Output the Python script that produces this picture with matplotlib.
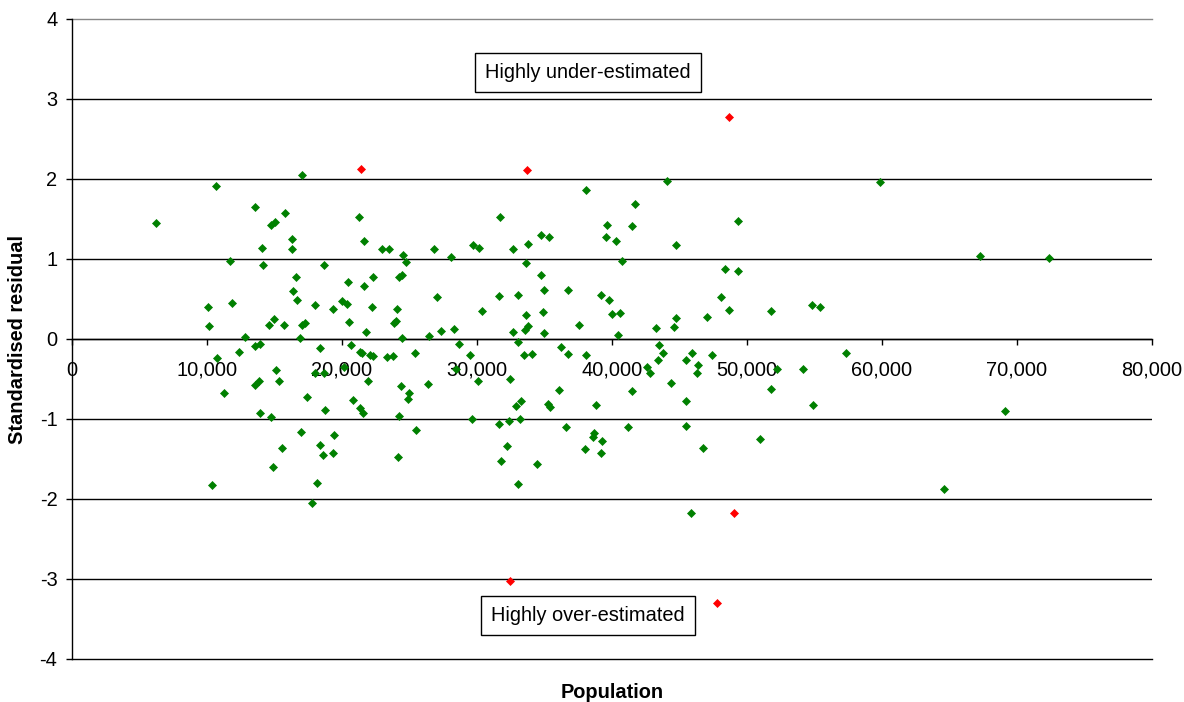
import numpy as np
import matplotlib
matplotlib.use('Agg')
import matplotlib.pyplot as plt
from matplotlib.ticker import StrMethodFormatter

plt.rcParams['font.family'] = ['Liberation Sans', 'DejaVu Sans']
plt.rcParams['axes.unicode_minus'] = False

# Population and standardised residual for each district (within +/- 2.5)
pop = [17060, 10700, 13550, 6220, 15800, 14740, 15060, 16270, 14050, 16300,
       11680, 14150, 18690, 16590, 16370, 16670, 10070, 11820, 17970, 10120,
       14560, 14930, 15700, 17040, 17260, 12790, 16910, 19360,
       13550, 13950, 12340, 18390, 10740, 15110, 18000, 18640, 15330, 13550,
       13870, 11280, 17380, 18710, 13950, 14760, 16960, 15550, 18390, 18610,
       14860, 10390, 18150, 17780, 19430, 19300,
       21280, 31730, 21650, 22960, 23450, 24520, 24760, 26790, 29680, 30120,
       32640, 33800, 28040, 33650, 20470, 22290, 21650, 24190, 24470, 20000,
       20390, 22240, 24100, 27010, 31600, 33010, 30370, 33600, 20520, 21780,
       23820, 24000, 26470, 27360, 28320, 24420, 32690, 33560, 33780,
       20690, 21330, 21450, 22070, 22300, 20120, 23300, 23750, 25400, 28690,
       29450, 28440, 33010, 33470, 21900, 24370, 24930, 24890, 26370, 30040,
       32440, 20840, 21360, 21580, 24240, 29650, 31630, 32370, 33190, 32890,
       33280, 25480, 24120, 32190, 31800, 33010, 34420,
       44040, 38040, 41730, 39600, 39560, 41480, 34740, 35300, 40320, 44740,
       40740, 48390, 34740, 34960, 36760, 39180, 39800, 48070, 34910, 39990,
       40560, 47000, 48640, 44740, 37530, 34930, 40470, 43280, 44620,
       34070, 36250, 36740, 38070, 43500, 43800, 43380, 42560, 42810, 45900,
       45480, 46340, 46300, 47380, 44370, 36040, 41480, 35240, 35430, 38840,
       45480, 36610, 41210, 45480, 38640, 38570, 39230, 38020, 39160, 46710,
       45820,
       59820, 49330, 67280, 72370, 49360, 51750, 54790, 55380,
       57360, 52220, 54150, 51780, 54860, 69110, 50990, 64590]
resid = [2.05, 1.91, 1.65, 1.45, 1.58, 1.42, 1.46, 1.25, 1.14, 1.13,
         0.98, 0.93, 0.93, 0.78, 0.60, 0.49, 0.40, 0.45, 0.43, 0.16,
         0.18, 0.25, 0.18, 0.18, 0.20, 0.03, 0.01, 0.37,
         -0.09, -0.06, -0.16, -0.11, -0.24, -0.39, -0.42, -0.43, -0.53, -0.57,
         -0.52, -0.68, -0.73, -0.89, -0.93, -0.98, -1.16, -1.36, -1.32, -1.45,
         -1.60, -1.82, -1.80, -2.05, -1.20, -1.43,
         1.52, 1.52, 1.22, 1.13, 1.13, 1.05, 0.96, 1.13, 1.17, 1.14,
         1.13, 1.19, 1.02, 0.95, 0.71, 0.78, 0.66, 0.78, 0.80, 0.48,
         0.44, 0.40, 0.37, 0.53, 0.54, 0.55, 0.35, 0.30, 0.21, 0.09,
         0.20, 0.23, 0.04, 0.10, 0.12, 0.01, 0.09, 0.11, 0.16,
         -0.08, -0.16, -0.18, -0.20, -0.21, -0.35, -0.22, -0.21, -0.18, -0.06,
         -0.20, -0.38, -0.04, -0.20, -0.53, -0.59, -0.67, -0.75, -0.56, -0.52,
         -0.50, -0.76, -0.86, -0.93, -0.96, -1.00, -1.06, -1.02, -1.00, -0.84,
         -0.78, -1.14, -1.48, -1.34, -1.53, -1.81, -1.56,
         1.97, 1.86, 1.69, 1.42, 1.28, 1.41, 1.30, 1.28, 1.22, 1.18,
         0.98, 0.87, 0.80, 0.61, 0.61, 0.55, 0.49, 0.53, 0.34, 0.31,
         0.32, 0.28, 0.36, 0.26, 0.18, 0.07, 0.05, 0.14, 0.15,
         -0.19, -0.10, -0.19, -0.20, -0.08, -0.18, -0.26, -0.35, -0.42, -0.17,
         -0.26, -0.33, -0.43, -0.20, -0.55, -0.64, -0.65, -0.81, -0.85, -0.83,
         -0.78, -1.10, -1.10, -1.09, -1.18, -1.22, -1.28, -1.38, -1.43, -1.36,
         -2.17,
         1.96, 1.48, 1.04, 1.01, 0.85, 0.35, 0.42, 0.40,
         -0.18, -0.38, -0.38, -0.63, -0.82, -0.90, -1.25, -1.88]

# Outliers
out_pop = [21380, 33730, 48640, 32470, 49040, 47800]
out_resid = [2.13, 2.11, 2.78, -3.02, -2.17, -3.30]

fs = 14.4

fig = plt.figure(figsize=(11.84, 7.02), dpi=100)
ax = fig.add_axes([72/1184, 1 - 659/702, 1080/1184, 640/702])

ax.plot(pop, resid, 'D', color='#008000', ms=3.9, mew=0.5, ls='none', zorder=3)
ax.plot(out_pop, out_resid, 'D', color='#FF0000', ms=3.9, mew=0.5, ls='none', zorder=3)

ax.set_xlim(0, 80000)
ax.set_ylim(-4, 4)
ax.set_xticks(np.arange(0, 80001, 10000))
ax.set_yticks(np.arange(-4, 5, 1))
ax.xaxis.set_major_formatter(StrMethodFormatter('{x:,.0f}'))

# axes: x axis crosses at zero, no box
ax.spines['bottom'].set_position(('data', 0))
ax.spines['top'].set_visible(False)
ax.spines['right'].set_visible(False)
for s in ['left', 'bottom']:
    ax.spines[s].set_linewidth(1.0)
    ax.spines[s].set_color('black')

# gridlines; the edge ones drawn unclipped so they show full width
for yv in range(-3, 4):
    ax.axhline(yv, color='black', lw=1.0, zorder=1)
ax.axhline(-4, color='black', lw=1.0, zorder=1, clip_on=False)
ax.axhline(4, color='#888888', lw=1.0, zorder=1, clip_on=False)

ax.tick_params(axis='x', direction='out', length=4.5, width=1, pad=11, labelsize=fs)
ax.tick_params(axis='y', direction='out', length=4.5, width=1, pad=6, labelsize=fs)

fig.text(18/1184, 1 - 339/702, 'Standardised residual', rotation=90,
         ha='center', va='center', fontsize=fs, fontweight='bold')
fig.text(612/1184, 1 - 692/702, 'Population', ha='center', va='center',
         fontsize=fs, fontweight='bold')

box = dict(boxstyle='square,pad=0.5', fc='white', ec='black', lw=1)
ax.text(38200, 3.33, 'Highly under-estimated', ha='center', va='center',
        fontsize=fs, bbox=box)
ax.text(38200, -3.46, 'Highly over-estimated', ha='center', va='center',
        fontsize=fs, bbox=box)

fig.savefig('out.png', dpi=100)
